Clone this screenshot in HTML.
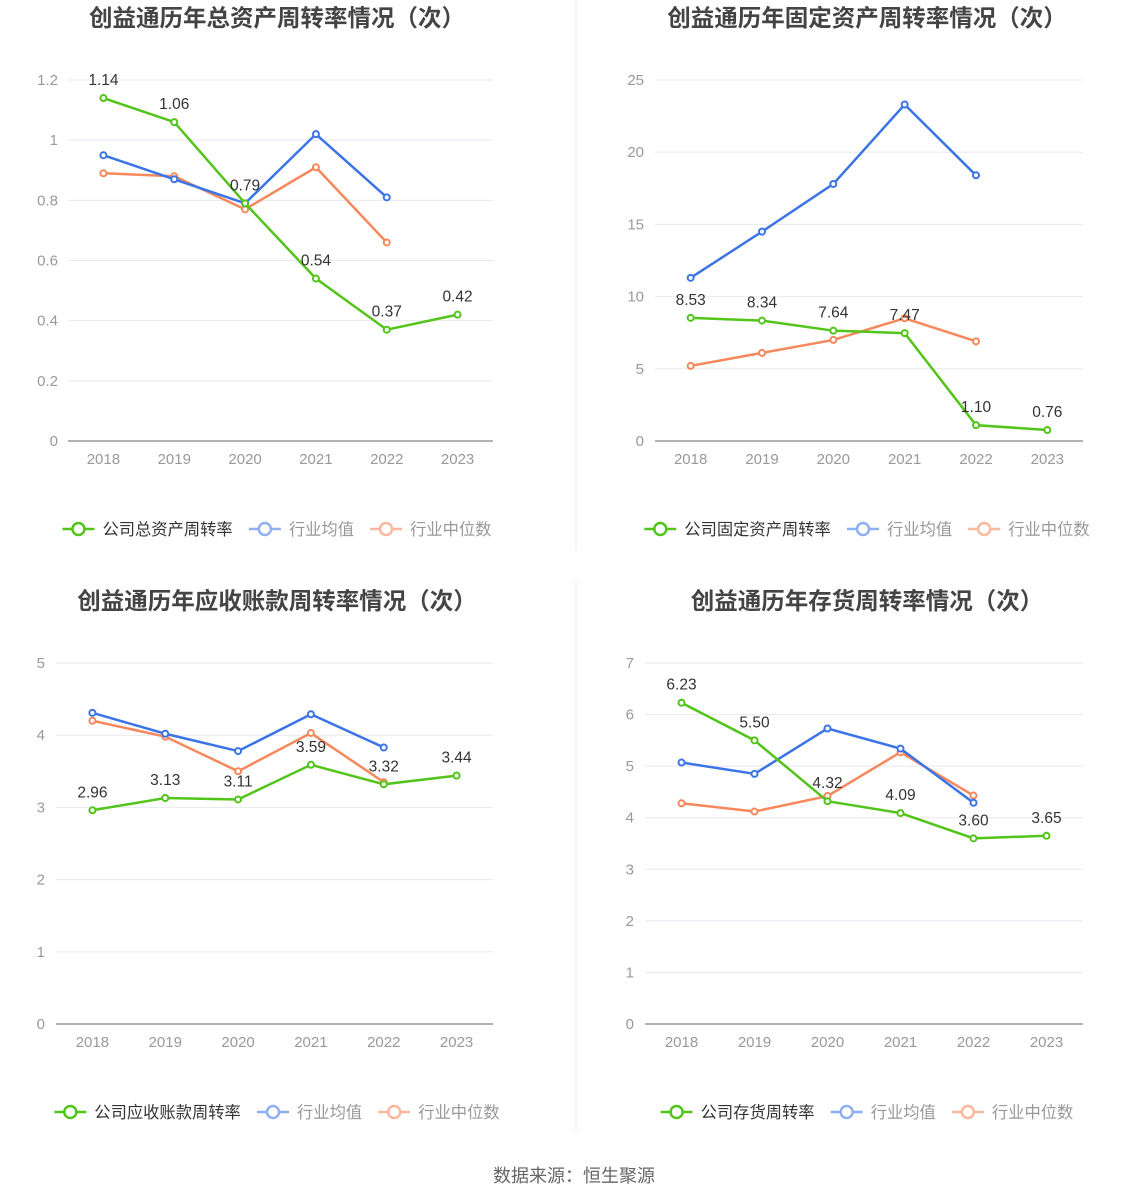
<!DOCTYPE html>
<html><head><meta charset="utf-8"><style>
body{margin:0;background:#fff;}
svg{display:block;font-family:"Liberation Sans","Noto Sans CJK SC",sans-serif;}
</style></head><body>
<svg id="s" width="1148" height="1202">
<line x1="576" y1="0" x2="576" y2="550" stroke="#eee"/>
<line x1="576" y1="580" x2="576" y2="1132" stroke="#eee"/>
<text x="574" y="1182" text-anchor="middle" font-size="18" fill="#666">数据来源：恒生聚源</text>
</svg>
<script>
const years = ["2018","2019","2020","2021","2022","2023"];
const c1Company = [1.14,1.06,0.79,0.54,0.37,0.42];
const c1Avg = [0.95,0.87,0.79,1.02,0.81];
const c1Median = [0.89,0.88,0.77,0.91,0.66];
const c1Ticks = [0,0.2,0.4,0.6,0.8,1,1.2];
const c2Company = [8.53,8.34,7.64,7.47,1.10,0.76];
const c2Avg = [11.3,14.5,17.8,23.3,18.4];
const c2Median = [5.2,6.1,7.0,8.5,6.9];
const c2Ticks = [0,5,10,15,20,25];
const c3Company = [2.96,3.13,3.11,3.59,3.32,3.44];
const c3Avg = [4.31,4.02,3.78,4.29,3.83];
const c3Median = [4.2,3.98,3.5,4.03,3.35];
const c3Ticks = [0,1,2,3,4,5];
const c4Company = [6.23,5.50,4.32,4.09,3.60,3.65];
const c4Avg = [5.07,4.85,5.73,5.34,4.29];
const c4Median = [4.28,4.12,4.42,5.27,4.43];
const c4Ticks = [0,1,2,3,4,5,6,7];

const NS="http://www.w3.org/2000/svg";
const svg=document.getElementById('s');
const GREEN="#52c41a",BLUE="#3b74e6",ORANGE="#f7885c";
function mk(tag,attrs,parent){const e=document.createElementNS(NS,tag);for(const k in attrs)e.setAttribute(k,attrs[k]);(parent||svg).appendChild(e);return e;}

function chart(id,title,cx,left,right,top,bottom,ticks,company,avg,median,legName,legY,labelX){
  const g=mk('g',{});
  
  
  const t=mk('text',{x:cx,y:top-54,'text-anchor':'middle','font-size':23.5,'font-weight':'bold',fill:'#444'},g);
  t.textContent=title;
  
  
  const max=ticks[ticks.length-1];
  const y=v=>bottom-(v/max)*(bottom-top);
  const step=(right-left)/years.length;
  const x=i=>left+step*(i+0.5);
  ticks.forEach(tv=>{
    const ln=mk('line',{x1:left,x2:right,y1:y(tv),y2:y(tv),stroke:tv===0?'#999':'#e8e8f0','stroke-width':tv===0?1.5:1},g);
    
    
    const tx=mk('text',{x:labelX,y:y(tv)+5,'text-anchor':'end','font-size':15,fill:'#999'},g);
    tx.textContent=String(tv);
    
    
  });
  years.forEach((yr,i)=>{
    const tx=mk('text',{x:x(i),y:bottom+23,'text-anchor':'middle','font-size':15,fill:'#999'},g);
    tx.textContent=yr;
    
    
  });
  function series(vals,color,name,labels){
    const pts=vals.map((v,i)=>x(i)+','+y(v)).join(' ');
    const pl=mk('polyline',{points:pts,fill:'none',stroke:color,'stroke-width':2.5},g);
    
    
    vals.forEach((v,i)=>{
      const c=mk('circle',{cx:x(i),cy:y(v),r:3,fill:'#fff',stroke:color,'stroke-width':2},g);
      
      
      if(labels){
        const l=mk('text',{x:x(i),y:y(v)-13,'text-anchor':'middle','font-size':15.5,fill:'#333'},g);
        l.textContent=v.toFixed(2);
        
        
      }
    });
  }
  series(median,ORANGE,'median',false);
  series(avg,BLUE,'average',false);
  series(company,GREEN,'company',true);
  const items=[[legName,GREEN,'#333'],['行业均值','#8fb0f0','#999'],['行业中位数','#fbb89e','#999']];
  const widths=items.map(it=>40+it[0].length*16.3);
  const total=widths.reduce((a,b)=>a+b,0)+16*2;
  let lx=cx-total/2;
  items.forEach((it,k)=>{
    const lg=mk('g',{},g);
    
    
    mk('line',{x1:lx,x2:lx+32,y1:legY,y2:legY,stroke:it[1],'stroke-width':2.5},lg);
    mk('circle',{cx:lx+16,cy:legY,r:6,fill:'#fff',stroke:it[1],'stroke-width':2.5},lg);
    const tx=mk('text',{x:lx+40,y:legY+6,'font-size':16.3,fill:it[2]},lg);
    tx.textContent=it[0];
    lx+=widths[k]+16;
  });
}
chart('chart-total-asset-turnover','创益通历年总资产周转率情况（次）',277,68,493,80,441,c1Ticks,c1Company,c1Avg,c1Median,'公司总资产周转率',529,58);
chart('chart-fixed-asset-turnover','创益通历年固定资产周转率情况（次）',867,655,1083,80,441,c2Ticks,c2Company,c2Avg,c2Median,'公司固定资产周转率',529,644);
chart('chart-receivables-turnover','创益通历年应收账款周转率情况（次）',277,56,493,663,1024,c3Ticks,c3Company,c3Avg,c3Median,'公司应收账款周转率',1112,45);
chart('chart-inventory-turnover','创益通历年存货周转率情况（次）',867,645,1083,663,1024,c4Ticks,c4Company,c4Avg,c4Median,'公司存货周转率',1112,634);
</script>
</body></html>
